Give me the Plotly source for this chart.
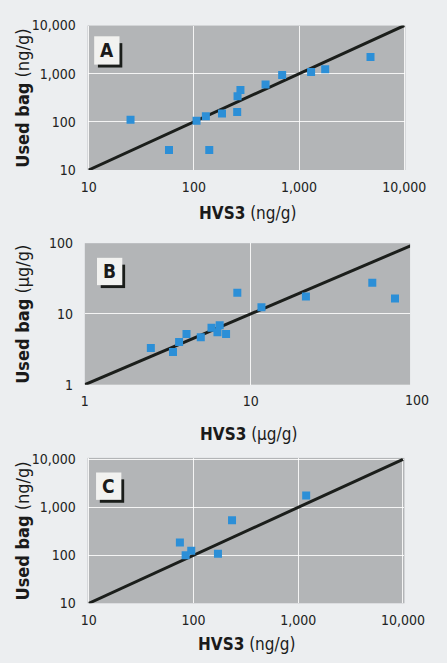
import math
import plotly.graph_objects as go

W, H = 447, 663

# ---------------- data ----------------
a_hvs3 = [25, 58, 106, 130, 140, 185, 258, 260, 277, 480, 690, 1300, 1770, 4770]
a_bag = [110, 26, 105, 130, 26, 150, 160, 340, 460, 600, 940, 1080, 1240, 2230]

b_hvs3 = [2.5, 3.4, 3.7, 4.1, 5.0, 5.8, 6.3, 6.5, 7.1, 8.3, 11.6, 21.5, 54, 74]
b_bag = [3.3, 2.9, 4.0, 5.2, 4.7, 6.4, 5.5, 6.9, 5.2, 20, 12.4, 17.6, 27.5, 16.5]

c_hvs3 = [74, 84, 95, 171, 233, 1190]
c_bag = [184, 100, 124, 108, 540, 1760]

ng_ticks = [10, 100, 1000, 10000]
ng_labels = ["10", "100", "1,000", "10,000"]
ug_ticks = [1, 10, 100]
ug_labels = ["1", "10", "100"]

line_ng = [10, 10000]
line_ug = [1, 100]

panel_letters = ["A", "B", "C"]
x_titles = ["<b>HVS3</b> (ng/g)", "<b>HVS3</b> (μg/g)", "<b>HVS3</b> (ng/g)"]
y_titles = ["<b>Used bag</b> (ng/g)", "<b>Used bag</b> (μg/g)", "<b>Used bag</b> (ng/g)"]

# ---------------- layout geometry (pixels) ----------------
panels = [
    dict(x0=86, x1=425, y0=18, y1=166, xr=[0.99, 4.01], yr=[1, 4.0],
         box=(93, 29, 120, 58), xt=210),
    dict(x0=83, x1=430, y0=241, y1=386, xr=[0, 1.96], yr=[0, 2.0],
         box=(96, 256, 123, 284), xt=437),
    dict(x0=86, x1=424, y0=461, y1=610, xr=[0.988, 4.014], yr=[1, 4.03],
         box=(95, 476, 122, 504), xt=652),
]

def px(x):
    return x / W

def py(y):
    return 1 - y / H

FONT = "DejaVu Sans Condensed, Liberation Sans Narrow, sans-serif"
BG = "#eceef0"
PLOT_BG = "#b3b5b7"
BLUE = "#2c8fd7"
LINE = "#1b1e1b"
TXT = "#222222"

datasets = [(a_hvs3, a_bag, line_ng), (b_hvs3, b_bag, line_ug), (c_hvs3, c_bag, line_ng)]
ticksets = [(ng_ticks, ng_labels), (ug_ticks, ug_labels), (ng_ticks, ng_labels)]

fig = go.Figure()
shapes = []
annotations = []

for i, (p, (xs, ys, ln), (tv, tt)) in enumerate(zip(panels, datasets, ticksets)):
    n = "" if i == 0 else str(i + 1)
    xa, ya = "x" + n, "y" + n
    fig.add_trace(go.Scatter(x=ln, y=ln, mode="lines", xaxis=xa, yaxis=ya,
                             line=dict(color=LINE, width=3), showlegend=False,
                             hoverinfo="skip"))
    fig.add_trace(go.Scatter(x=xs, y=ys, mode="markers", xaxis=xa, yaxis=ya,
                             marker=dict(symbol="square", size=8, color=BLUE,
                                         line=dict(width=0)),
                             showlegend=False))
    common = dict(type="log", tickvals=tv, ticktext=tt, showgrid=True,
                  gridcolor="rgba(255,255,255,0.85)", gridwidth=1,
                  zeroline=False, showline=False, ticks="outside",
                  tickcolor="rgba(0,0,0,0)",
                  tickfont=dict(family=FONT, size=14, color=TXT))
    x_tv = [v for v in tv if p["xr"][0] - 0.01 <= math.log10(v) <= p["xr"][1] + 0.01]
    x_tt = [tt[tv.index(v)] for v in x_tv]
    fig.layout["xaxis" + n] = dict(common, tickvals=x_tv, ticktext=x_tt,
                                   domain=[px(p["x0"]), px(p["x1"])],
                                   range=p["xr"], anchor=ya, ticklen=4)
    fig.layout["yaxis" + n] = dict(common, domain=[py(p["y1"]), py(p["y0"])],
                                   range=p["yr"], anchor=xa, ticklen=8)
    # tick labels lying beyond the axis range (drawn at their scale position)
    for v, t in zip(tv, tt):
        if v not in x_tv:
            frac = (math.log10(v) - p["xr"][0]) / (p["xr"][1] - p["xr"][0])
            xpos = p["x0"] + frac * (p["x1"] - p["x0"])
            annotations.append(dict(x=px(xpos), xref="paper",
                                    y=py(p["y1"] + 5), yref="paper",
                                    text=t, showarrow=False, yanchor="top",
                                    xanchor="center",
                                    font=dict(family=FONT, size=14, color=TXT)))
    # letter box with drop shadow
    bx0, by0, bx1, by1 = p["box"]
    shapes.append(dict(type="rect", xref="paper", yref="paper",
                       x0=px(bx0 + 4), x1=px(bx1 + 3), y0=py(by1 + 3), y1=py(by0 + 7),
                       fillcolor="#1a1d1a", line=dict(width=0), layer="above"))
    shapes.append(dict(type="rect", xref="paper", yref="paper",
                       x0=px(bx0), x1=px(bx1), y0=py(by1), y1=py(by0),
                       fillcolor="#f2f2f0", line=dict(width=0), layer="above"))
    annotations.append(dict(x=px((bx0 + bx1) / 2), y=py((by0 + by1) / 2),
                            xref="paper", yref="paper", text="<b>%s</b>" % panel_letters[i],
                            showarrow=False, xanchor="center", yanchor="middle",
                            font=dict(family=FONT, size=19, color="#1a1a1a")))
    # axis titles
    annotations.append(dict(x=px((p["x0"] + p["x1"]) / 2 + 1), y=py(p["xt"]),
                            xref="paper", yref="paper", text=x_titles[i],
                            showarrow=False, xanchor="center", yanchor="middle",
                            font=dict(family=FONT, size=17, color="#1a1a1a")))
    annotations.append(dict(x=px(17), y=py((p["y0"] + p["y1"]) / 2),
                            xref="paper", yref="paper", text=y_titles[i],
                            showarrow=False, xanchor="center", yanchor="middle",
                            textangle=-90,
                            font=dict(family=FONT, size=18, color="#1a1a1a")))

fig.update_layout(width=W, height=H, margin=dict(l=0, r=0, t=0, b=0),
                  paper_bgcolor=BG, plot_bgcolor=PLOT_BG,
                  shapes=shapes, annotations=annotations, showlegend=False)

fig.write_html("out.html", config={"displayModeBar": False},
               post_script="document.body.style.margin='0';document.body.style.background='%s';" % BG)
